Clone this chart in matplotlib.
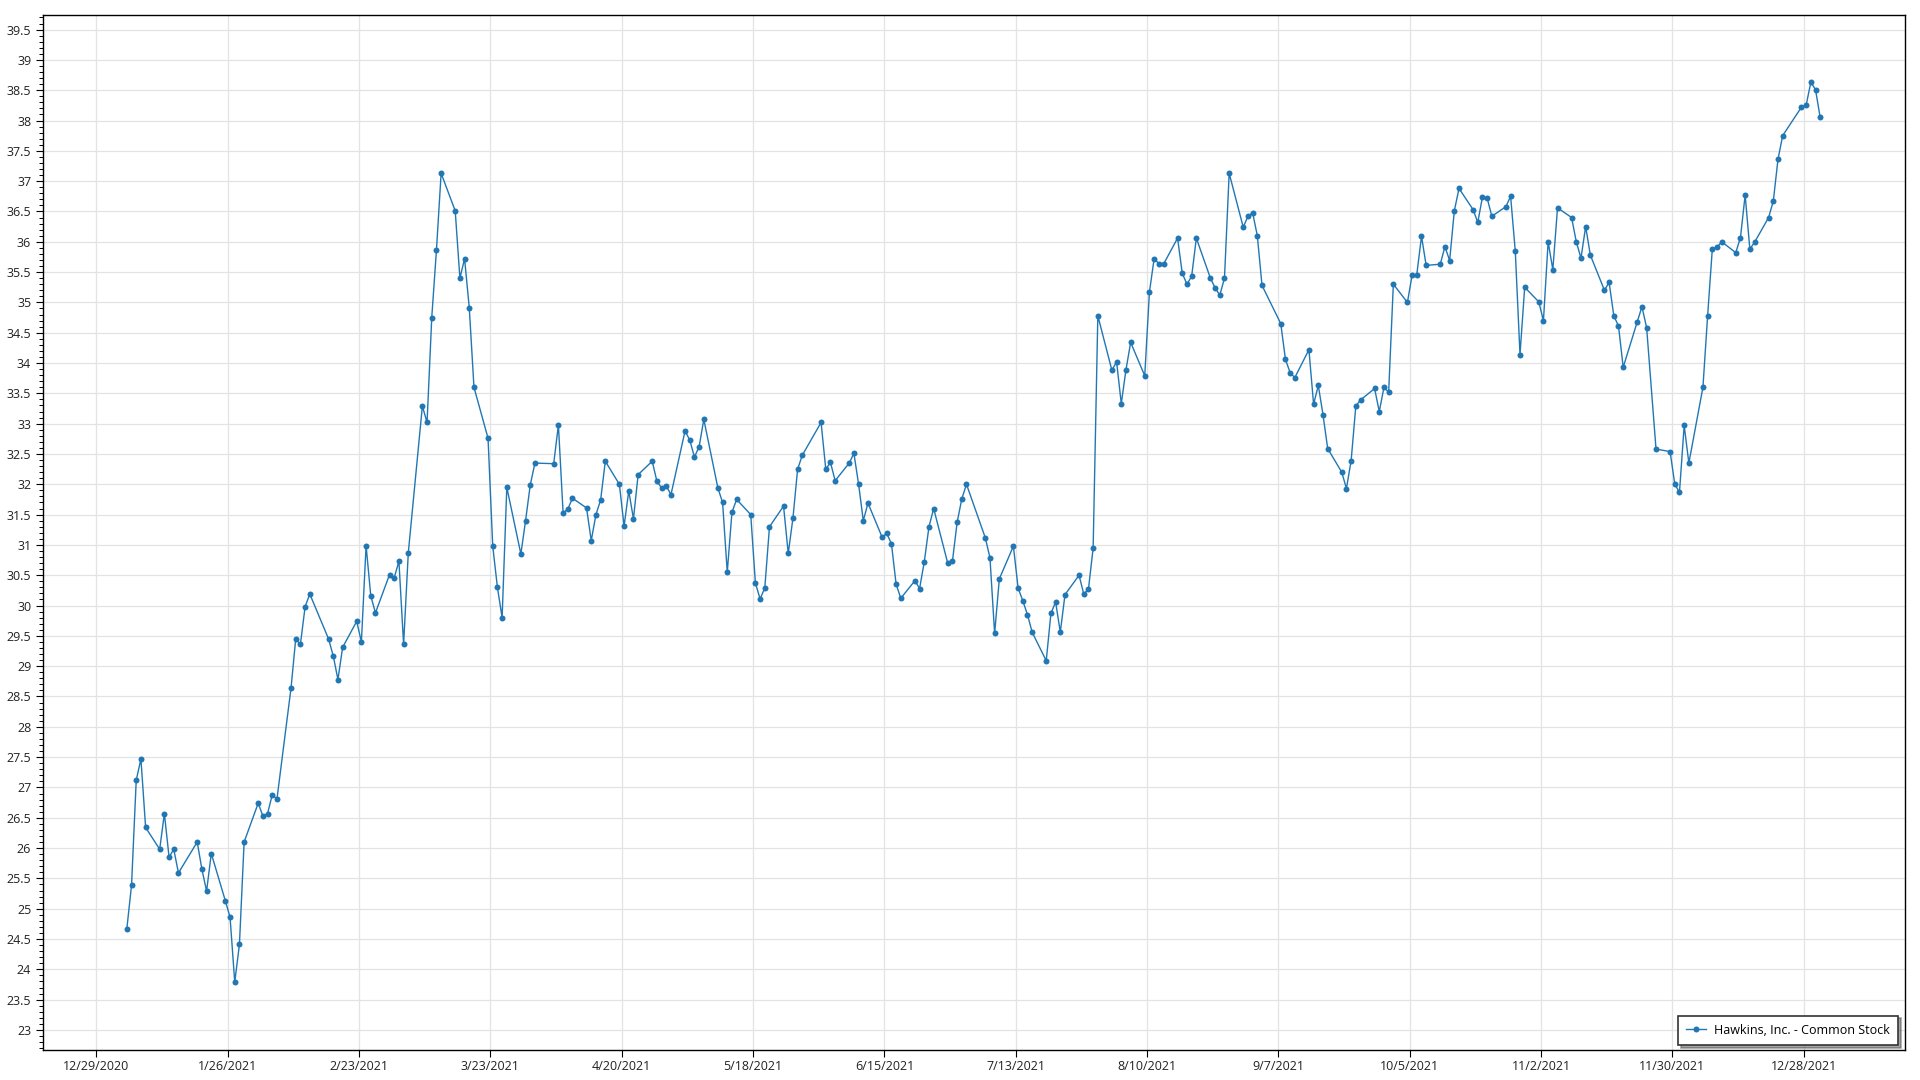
import numpy as np
import pandas as pd
import matplotlib
matplotlib.use("Agg")
import matplotlib.pyplot as plt
import matplotlib.dates as mdates
from matplotlib.ticker import MultipleLocator, FuncFormatter, FixedLocator

# NYSE holidays in 2021 (closing prices exist for every other weekday)
holidays = ["2021-01-01", "2021-01-18", "2021-02-15", "2021-04-02", "2021-05-31",
            "2021-07-05", "2021-09-06", "2021-11-25", "2021-12-24"]

# closing prices, month by month
jan = [24.67, 25.39, 27.12, 27.47, 26.34, 25.98, 26.57, 25.85, 25.98, 25.59,
       26.10, 25.65, 25.29, 25.91, 25.13, 24.86, 23.79, 24.41, 26.10]
feb = [26.74, 26.53, 26.57, 26.88, 26.81, 28.64, 29.45, 29.36, 29.98, 30.19,
       29.45, 29.17, 28.78, 29.31, 29.74, 29.40, 30.99, 30.16, 29.88]
mar = [30.51, 30.46, 30.73, 29.36, 30.87, 33.29, 33.02, 34.75, 35.86, 37.13,
       36.51, 35.40, 35.72, 34.91, 33.60, 32.76, 30.98, 30.30, 29.80, 31.95,
       30.85, 31.40, 31.99]
apr = [32.35, 32.34, 32.98, 31.53, 31.59, 31.77, 31.61, 31.07, 31.50, 31.74,
       32.38, 32.00, 31.31, 31.89, 31.43, 32.16, 32.38, 32.05, 31.94, 31.97,
       31.83]
may = [32.88, 32.73, 32.45, 32.62, 33.07, 31.94, 31.70, 30.55, 31.54, 31.75,
       31.50, 30.37, 30.11, 30.29, 31.30, 31.64, 30.86, 31.44, 32.25, 32.48]
jun = [33.02, 32.25, 32.36, 32.06, 32.35, 32.51, 32.00, 31.40, 31.69, 31.13,
       31.19, 31.02, 30.35, 30.12, 30.41, 30.28, 30.72, 31.30, 31.60, 30.70,
       30.73, 31.37]
jul = [31.76, 32.00, 31.12, 30.79, 29.54, 30.44, 30.98, 30.29, 30.08, 29.85,
       29.56, 29.09, 29.87, 30.06, 29.56, 30.18, 30.50, 30.19, 30.27, 30.95,
       34.78]
aug = [33.88, 34.02, 33.33, 33.89, 34.34, 33.79, 35.17, 35.72, 35.64, 35.63,
       36.06, 35.48, 35.30, 35.43, 36.06, 35.40, 35.24, 35.12, 35.40, 37.13,
       36.24, 36.42]
sep = [36.48, 36.10, 35.28, 34.65, 34.06, 33.84, 33.76, 34.22, 33.32, 33.63,
       33.15, 32.59, 32.20, 31.93, 32.39, 33.29, 33.39, 33.58, 33.20, 33.60,
       33.52]
oct_ = [35.30, 35.00, 35.45, 35.46, 36.09, 35.61, 35.63, 35.92, 35.69, 36.51,
        36.88, 36.53, 36.32, 36.74, 36.72, 36.42, 36.58, 36.75, 35.84, 34.14,
        35.25]
nov = [35.01, 34.70, 36.00, 35.54, 36.56, 36.40, 36.00, 35.73, 36.25, 35.78,
       35.20, 35.33, 34.78, 34.61, 33.93, 34.68, 34.93, 34.58, 32.58, 32.54,
       32.00]
dec = [31.87, 32.97, 32.35, 33.60, 34.78, 35.88, 35.91, 36.00, 35.82, 36.07,
       36.77, 35.88, 35.99, 36.40, 36.67, 37.36, 37.75, 38.22, 38.25, 38.63,
       38.51, 38.05]

series_name = "Hawkins, Inc. - Common Stock"
tick_start, tick_end = "2020-12-29", "2021-12-28"

prices = np.array(jan + feb + mar + apr + may + jun + jul + aug + sep + oct_ + nov + dec)
dates = pd.bdate_range("2021-01-04", "2021-12-31", freq="C", holidays=holidays)
# the source stamps each close at midday
dates = dates + pd.Timedelta(hours=12)

plt.rcParams["font.family"] = ["Open Sans", "DejaVu Sans"]
plt.rcParams["font.size"] = 9

fig = plt.figure(figsize=(19.2, 10.8), dpi=100)
ax = fig.add_axes([0.0224, 0.0278, 0.9698, 0.9583])

color = "#2077b4"
ax.plot(dates, prices, color=color, lw=1.0, marker="o", markersize=4.3,
        markeredgewidth=0, label=series_name, zorder=3)

ax.set_xlim(pd.Timestamp("2020-12-17 15:00"), pd.Timestamp("2022-01-18 14:00"))
ax.set_ylim(22.67, 39.74)

tick_dates = pd.date_range(tick_start, tick_end, freq="28D")
ax.xaxis.set_major_locator(FixedLocator(mdates.date2num(tick_dates)))


def fmt_date(x, pos):
    d = mdates.num2date(x)
    return f"{d.month}/{d.day}/{d.year}"


ax.xaxis.set_major_formatter(FuncFormatter(fmt_date))
ax.yaxis.set_major_locator(MultipleLocator(0.5))
ax.yaxis.set_minor_locator(MultipleLocator(0.1))
ax.yaxis.set_major_formatter(FuncFormatter(lambda v, pos: f"{v:g}"))

ax.grid(True, which="major", color="#e3e3e3", lw=0.9)
ax.set_axisbelow(True)
for s in ax.spines.values():
    s.set_color("black")
    s.set_linewidth(1.0)

ax.tick_params(axis="both", which="major", direction="out", length=5, width=0.8,
               colors="black", labelcolor="#222222", labelsize=9)
ax.tick_params(axis="y", which="minor", direction="out", length=3, width=0.7)
ax.tick_params(axis="x", which="major", pad=2)

leg = ax.legend(loc="lower right", fancybox=False, shadow=True, framealpha=1,
                edgecolor="#333333", fontsize=9, handlelength=1.6,
                borderpad=0.65, borderaxespad=0, handletextpad=0.6,
                bbox_to_anchor=(0.9962, 0.005))
leg.get_frame().set_linewidth(1.2)

fig.savefig("out.png", dpi=100)
